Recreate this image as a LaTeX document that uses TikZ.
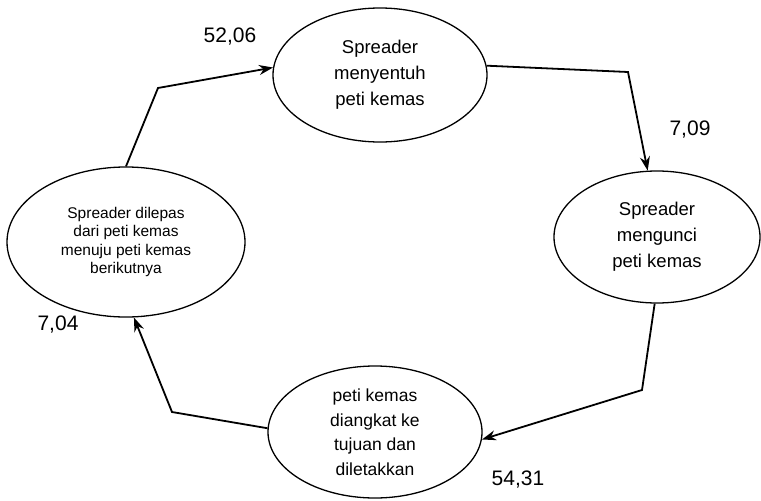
\documentclass[tikz,border=0pt]{standalone}
\usepackage{fontspec}
\setmainfont{Liberation Sans}
\usetikzlibrary{shapes.geometric,arrows.meta}
\begin{document}
\begin{tikzpicture}[x=1pt,y=-1pt,
  proc/.style={draw,ellipse,line width=1.3pt,inner sep=0pt,align=center},
  conn/.style={line width=1.8pt,line join=miter},
  arr/.style={conn,-{Stealth[length=14pt,width=10pt]}},
  val/.style={font=\fontsize{21}{24}\selectfont}]
\useasboundingbox (0,0) rectangle (761,501);
\node[proc,minimum width=214pt,minimum height=134pt,font=\fontsize{18.5}{26}\selectfont] (top) at (380,75) {Spreader\\menyentuh\\peti kemas};
\node[proc,minimum width=206pt,minimum height=132pt,font=\fontsize{18.5}{26}\selectfont] (rgt) at (657,237) {Spreader\\mengunci\\peti kemas};
\node[proc,minimum width=214pt,minimum height=132pt,font=\fontsize{17.5}{24.5}\selectfont] (bot) at (375,432) {peti kemas\\diangkat ke\\tujuan dan\\diletakkan};
\node[proc,minimum width=238pt,minimum height=150pt,font=\fontsize{15.5}{18.5}\selectfont] (lft) at (126,242) {Spreader dilepas\\dari peti kemas\\menuju peti kemas\\berikutnya};
\coordinate (c1) at (158,88);
\coordinate (c2) at (628,72);
\coordinate (c3) at (642,390);
\coordinate (c4) at (172,412);
\draw[arr] (lft.north) -- (c1) -- (top.176);
\draw[arr] (top.5) -- (c2) -- (rgt.98);
\draw[arr] (rgt.-92) -- (c3) -- (bot.-4);
\draw[arr] (bot.178) -- (c4) -- (lft.-84);
\node[val] (l1) at (230,37) {52,06};
\node[val] (l2) at (690,130) {7,09};
\node[val] (l3) at (58,325) {7,04};
\node[val] (l4) at (518,480) {54,31};
\end{tikzpicture}
\end{document}
